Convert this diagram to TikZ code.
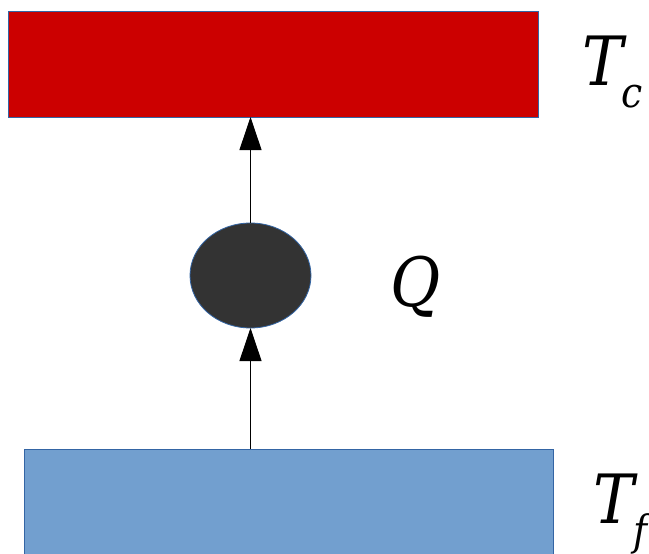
\documentclass[tikz,border=0pt]{standalone}
\usepackage{fontspec}
\newfontfamily\lblfont{DejaVu Serif Condensed}
\usetikzlibrary{arrows.meta,shapes.geometric}
\definecolor{hotred}{HTML}{CC0000}
\definecolor{coldblue}{HTML}{729FCF}
\definecolor{edgeblue}{HTML}{3465A4}
\definecolor{ballgray}{HTML}{333333}
\tikzset{
  plate/.style={draw=edgeblue, line width=0.8pt, inner sep=0pt, outer sep=0pt},
  flow/.style={draw=black, line width=0.9pt, -{Triangle[width=22pt,length=33pt]}},
  lbl/.style={inner sep=0pt, anchor=base west, font=\lblfont\fontsize{68}{76}\selectfont\itshape},
  sublbl/.style={inner sep=0pt, anchor=base west, font=\lblfont\fontsize{42}{48}\selectfont\itshape}
}
\begin{document}
\begin{tikzpicture}[x=1pt,y=-1pt]
\useasboundingbox (0,0) rectangle (649,554);
\node[plate, fill=hotred, minimum width=530pt, minimum height=106pt, anchor=north west] (hot) at (8,11) {};
\node[plate, fill=coldblue, minimum width=529pt, minimum height=120pt, anchor=north west] (cold) at (24,449) {};
\node[draw=edgeblue, line width=0.8pt, fill=ballgray, ellipse, minimum width=121pt, minimum height=105pt, inner sep=0pt, outer sep=0pt] (q) at (250.5,275.5) {};
\coordinate (hotb) at (hot.south -| q.north);
\coordinate (coldt) at (cold.north -| q.south);
\draw[flow] (q.north) -- (hotb);
\draw[flow] (coldt) -- (q.south);
\node[lbl] (tc) at (582,85) {T};
\node[sublbl] (tcs) at (621,107) {c};
\node[lbl] (ql) at (390,306) {Q};
\node[lbl] (tf) at (593,523) {T};
\node[sublbl] (tfs) at (633,545) {f};
\end{tikzpicture}
\end{document}
